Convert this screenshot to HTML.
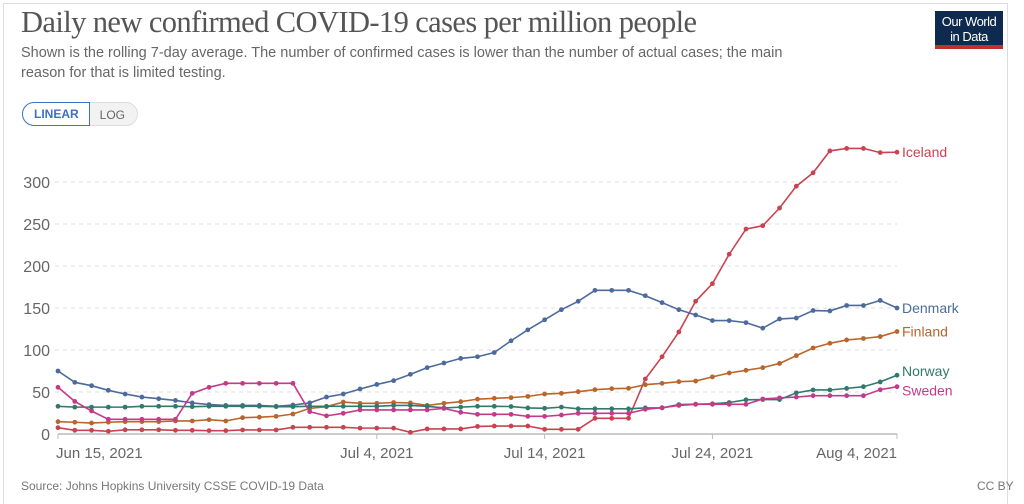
<!DOCTYPE html>
<html><head><meta charset="utf-8"><style>
body{margin:0;width:1024px;height:496px;background:#fff;overflow:hidden;font-family:"Liberation Sans",sans-serif;position:relative}
.frame{position:absolute;left:3px;top:3px;width:1003px;height:500px;border:1px solid #ddd;border-bottom:none}
.title{position:absolute;left:21px;top:5px;font-family:"Liberation Serif",serif;font-size:30.5px;color:#555;letter-spacing:-0.6px}
.sub{position:absolute;left:21px;top:43px;font-size:14.5px;color:#666;line-height:20px;width:800px}
.btns{position:absolute;left:22px;top:102px;display:flex;height:24px;font-size:12px}
.b1{border:1.5px solid #3b72c3;border-radius:12px 0 0 12px;color:#3b72c3;padding:4px 10px 0 11px;font-weight:bold;background:#fff}
.b2{border:1px solid #ddd;border-left:none;border-radius:0 12px 12px 0;color:#666;padding:5px 12px 0 10px;background:#f2f2f2}
.logo{position:absolute;left:935px;top:11px;width:68px;height:38px;background:#0e2a4e;border-bottom:4px solid #c0302e;color:#fff;font-size:13px;text-align:center;line-height:15px;padding-top:3px;box-sizing:border-box;letter-spacing:-0.5px}
.src{position:absolute;left:21px;top:479px;font-size:12px;color:#777}
.cc{position:absolute;left:977px;top:479px;font-size:12px;color:#777}
</style></head><body>
<div class="frame"></div>
<div class="title">Daily new confirmed COVID-19 cases per million people</div>
<div class="sub">Shown is the rolling 7-day average. The number of confirmed cases is lower than the number of actual cases; the main reason for that is limited testing.</div>
<div class="btns"><div class="b1">LINEAR</div><div class="b2">LOG</div></div>
<div class="logo">Our World<br>in Data</div>
<svg id="chart" width="1024" height="496" style="position:absolute;left:0;top:0"></svg>
<div class="src">Source: Johns Hopkins University CSSE COVID-19 Data</div>
<div class="cc">CC BY</div>
<script>
const yTicks=[0,50,100,150,200,250,300];
const xTickLabels=["Jun 15, 2021","Jul 4, 2021","Jul 14, 2021","Jul 24, 2021","Aug 4, 2021"];
const xTickDays=[0,19,29,39,50];
const countries=["Iceland","Denmark","Finland","Norway","Sweden"];
const iceland=[7.5,4.4,4.4,3.2,5,5,5,4.4,4.4,4,4,4.8,4.8,4.8,8,8,8,8,7,7,7,2,6,6,6,9,9.5,9.5,9.5,5.6,5.6,5.6,18.7,18.7,18.7,65.5,92,121.5,158,179,214,244,248,269,295,311,337,340,340,335,335.5];
const denmark=[75,61.5,57.5,52,47.6,44,42,40,37,35,34,34,34,33,34.5,37,44,47.6,53.6,59,63.5,71,79,84.5,90,92,97,111,124,136,148,158,171,171,171,164.6,156.4,148,141.7,135,135,132.6,126,137,138,147,146.5,153,153,159,150];
const finland=[14.7,14,13,14,14.7,14.7,14.7,15.5,15.5,17,15.5,19.4,20,21,23.8,30.5,32.5,38,36.5,36.5,37.5,37,34,36.5,38.5,41.5,42.5,43.3,44.8,47.6,48.4,50.4,52.8,54,54.4,58.7,60.3,62.3,63,68,72.6,75.8,79,84,93.3,102.4,108,112,113.7,116,122];
const norway=[33,32,32,32,32,33,33,33,32.5,33,33,33,33,32.5,32.5,33,33,33,33,33,34,34,33,31,32,33,33,32.7,31,30.6,32,30,30,30,30,31,31,35,35.5,36,37.5,40.7,41,41,49,52.4,52.4,54.3,56.3,62,70];
const sweden=[55.6,38.8,27.4,17.5,17.5,17.5,17.5,17.5,48.4,55.6,60.3,60.3,60.3,60.3,60.3,26.6,21.6,24.6,28.6,28.6,28.6,28.6,28.6,30.5,25.8,23.4,23.4,23.4,21,21,22.6,24.6,24.6,24.6,24.6,29.4,31.3,34,35.3,35.3,35.3,35.3,41.7,43,44,45.6,45.6,45.6,45.6,52.7,56.3];
const seriesData=[iceland,denmark,finland,norway,sweden];
const colors=["#c8434f","#4c6a9c","#b9652b","#2f7a6a","#c43a8a"];
const labelOffsets=[0,0,0,-4,4];
const svg=document.getElementById('chart');const NS='http://www.w3.org/2000/svg';
const X=d=>58+d*(897-58)/50;
const Y=v=>434-v*0.84;
function mk(t,a){const e=document.createElementNS(NS,t);for(const k in a)e.setAttribute(k,a[k]);svg.appendChild(e);return e;}
yTicks.forEach(v=>{
 if(v>0){const g=mk('line',{x1:55,x2:897,y1:Y(v),y2:Y(v),stroke:'#ddd','stroke-dasharray':'4,4'});
 
 }
 const t=mk('text',{x:50,y:Y(v)+6,'text-anchor':'end','font-size':16,fill:'#666','font-family':'Liberation Sans'});t.textContent=v;
 
 
});
const ax=mk('line',{x1:58,x2:897,y1:434,y2:434,stroke:'#bbb','stroke-width':1.5});


xTickDays.forEach((d,i)=>{
 const tk=mk('line',{x1:X(d),x2:X(d),y1:434,y2:439,stroke:'#bbb'});
 
 
 const t=mk('text',{x:X(d),y:458,'text-anchor':i==0?'start':(i==4?'end':'middle'),'font-size':15,fill:'#666','font-family':'Liberation Sans'});t.textContent=xTickLabels[i];
 if(i==0)t.setAttribute('x',X(d)-2);
 
 
});
seriesData.forEach((s,k)=>{
 const p=mk('polyline',{points:s.map((v,i)=>X(i)+','+Y(v)).join(' '),fill:'none',stroke:colors[k],'stroke-width':1.6});
 
 
 s.forEach((v,i)=>{const c=mk('circle',{cx:X(i),cy:Y(v),r:2.4,fill:colors[k]});
 
 });
 const t=mk('text',{x:902,y:Y(s[s.length-1])+5+labelOffsets[k],'font-size':14,fill:colors[k],'font-family':'Liberation Sans'});t.textContent=countries[k];
 
 
});
</script>
</body></html>
